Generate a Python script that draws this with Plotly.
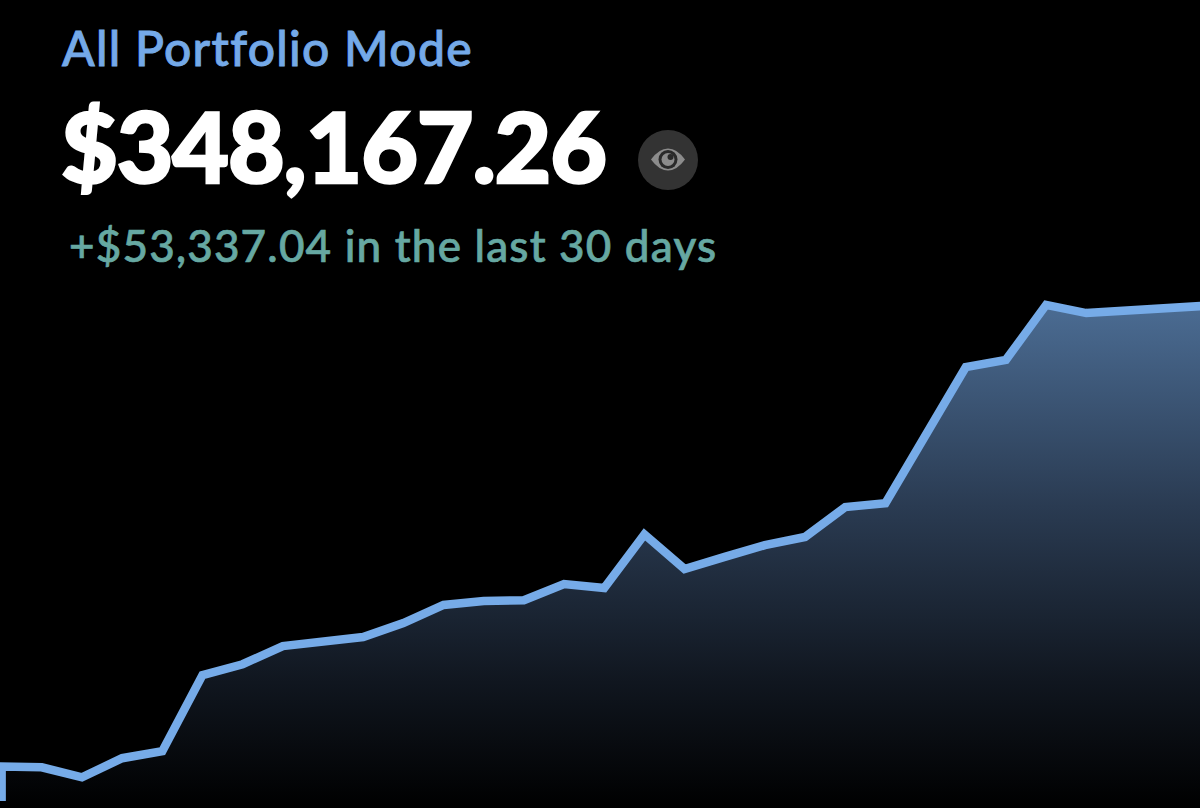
import plotly.graph_objects as go

W, H = 1200, 808

# Data (day index, portfolio value in USD)
days = [0, 0, 1, 2, 3, 4, 5, 6, 7, 8, 9, 10, 11, 12, 13, 14, 15, 16, 17, 18, 19,
        20, 21, 22, 23, 24, 25, 26, 27, 28, 29, 30]
values = [290900, 294900, 294800, 293650, 295850, 296650, 305450, 306700, 308800,
          309400, 309850, 311450, 313550, 314000, 314100, 315950, 315500, 321700,
          317700, 319100, 320450, 321400, 324850, 325300, 333300, 341000, 341850,
          348200, 347250, 347500, 347850, 348100]
title_text = "All Portfolio Mode"
balance_text = "$348,167.26"
change_text = "+$53,337.04 in the last 30 days"

y_bottom = 290100
y_top = 383400
x_left = -0.04
x_right = 29.83
baseline = [y_bottom] * len(days)


def px(x):
    return x / W


def py(y):
    return 1 - y / H


def eye_path():
    cx, cy = 668, 159.5
    s = f"M {px(cx - 17)} {py(cy)} "
    s += f"Q {px(cx - 9)} {py(cy - 11)} {px(cx)} {py(cy - 11)} "
    s += f"Q {px(cx + 9)} {py(cy - 11)} {px(cx + 17)} {py(cy)} "
    s += f"Q {px(cx + 9)} {py(cy + 11)} {px(cx)} {py(cy + 11)} "
    s += f"Q {px(cx - 9)} {py(cy + 11)} {px(cx - 17)} {py(cy)} Z"
    return s


def circle(cx, cy, r, color):
    return dict(type="circle", xref="paper", yref="paper", layer="above",
                x0=px(cx - r), x1=px(cx + r), y0=py(cy + r), y1=py(cy - r),
                fillcolor=color, line=dict(width=0))


fig = go.Figure()
fig.add_trace(go.Scatter(x=days, y=baseline, mode="lines", line=dict(width=0),
                         hoverinfo="skip", showlegend=False))
fig.add_trace(go.Scatter(
    x=days, y=values, mode="lines", fill="tonexty",
    line=dict(color="#76abe8", width=8.5, shape="linear"),
    fillgradient=dict(type="vertical",
                      colorscale=[[0, "#000000"], [0.25, "#10161f"], [0.6, "#2a3b52"], [1, "#4b6c93"]]),
    showlegend=False))

fig.update_layout(
    width=W, height=H, autosize=False,
    margin=dict(l=0, r=0, t=0, b=0),
    paper_bgcolor="#000000", plot_bgcolor="#000000",
    xaxis=dict(visible=False, range=[x_left, x_right], fixedrange=True),
    yaxis=dict(visible=False, range=[y_bottom, y_top], fixedrange=True),
    font=dict(family="Lato"),
    shapes=[
        circle(668, 160, 30, "#333333"),
        dict(type="path", xref="paper", yref="paper", layer="above", path=eye_path(),
             fillcolor="#8c8c8c", line=dict(width=0)),
        circle(668, 159.5, 9.5, "#2a2a2a"),
        circle(668, 159.5, 6.5, "#8c8c8c"),
        circle(670.5, 157, 3, "#2a2a2a"),
    ],
    annotations=[
        dict(text=title_text, x=px(60), y=py(47), xref="paper", yref="paper",
             xanchor="left", yanchor="middle", showarrow=False,
             font=dict(family="Lato", size=48, color="#74a9e8", weight=500)),
        dict(text=balance_text, x=px(59), y=py(145), xref="paper", yref="paper",
             xanchor="left", yanchor="middle", showarrow=False,
             font=dict(family="Lato", size=98, color="#ffffff", weight=900)),
        dict(text=change_text, x=px(67), y=py(245), xref="paper", yref="paper",
             xanchor="left", yanchor="middle", showarrow=False,
             font=dict(family="Lato", size=44, color="#66a8a2", weight=500)),
    ],
)
post = """
document.documentElement.style.margin = '0';
document.body.style.margin = '0';
document.body.style.background = '#000';
var styles = [['1.3px', '0.9px'], ['-1.2px', '2.4px'], ['1.2px', '0.7px']];
document.querySelectorAll('.annotation-text').forEach(function (el, i) {
  var left = el.getBBox().x;
  el.style.letterSpacing = styles[i][0];
  el.style.stroke = el.style.fill;
  el.style.strokeWidth = styles[i][1];
  var shift = left - el.getBBox().x;
  el.setAttribute('x', parseFloat(el.getAttribute('x')) + shift);
});
"""
fig.write_html("out.html", config=dict(displayModeBar=False), post_script=post)
